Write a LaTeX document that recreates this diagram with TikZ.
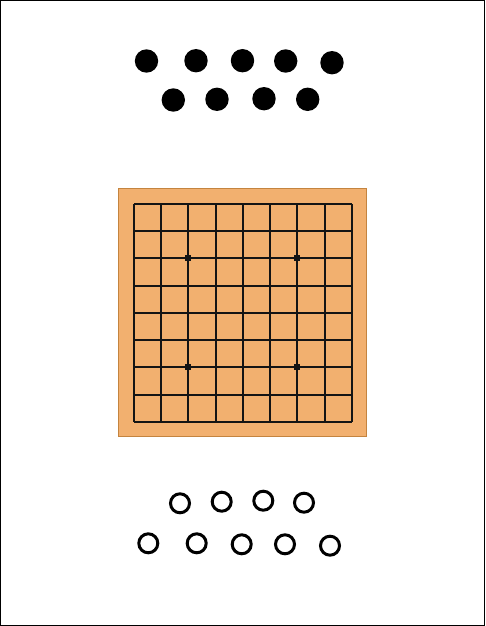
\documentclass[tikz,border=0pt]{standalone}
\usepackage{xcolor}
\definecolor{boardwood}{HTML}{F2B06F}
\definecolor{boardedge}{HTML}{C4843F}
\definecolor{gridline}{HTML}{141414}

\begin{document}
\begin{tikzpicture}[x=1pt, y=-1pt,
  blackstone/.style={circle, fill=black, minimum size=23.4pt, inner sep=0pt},
  whitestone/.style={circle, draw=black, fill=white, line width=3pt, minimum size=19pt, inner sep=0pt},
  boardline/.style={draw=gridline, line width=1.5pt}]
  % Page frame
  \useasboundingbox (0,0) rectangle (485,626);
  \draw[line width=1.3pt] (0.65,0.65) rectangle (484.35,625.35);
  % Captured black stones (top)
  \node[blackstone] (b1) at (146.5,61)  {};
  \node[blackstone] (b2) at (196,60.7)  {};
  \node[blackstone] (b3) at (242.5,60.7) {};
  \node[blackstone] (b4) at (285.7,61)  {};
  \node[blackstone] (b5) at (332,62.7)  {};
  \node[blackstone] (b6) at (173.3,100) {};
  \node[blackstone] (b7) at (217,99.3)  {};
  \node[blackstone] (b8) at (264,98.7)  {};
  \node[blackstone] (b9) at (307.7,99.3) {};
  % Board
  \draw[fill=boardwood, draw=boardedge, line width=1.2pt] (118.6,188.6) rectangle (366.8,436.8);
  \foreach \g in {134,161,188,216,243,270,297,325,352} {
    \draw[boardline] (\g,204) -- (\g,422);
    \draw[boardline] (134,{\g+70}) -- (352,{\g+70});
  }
  % Star points
  \foreach \sx/\sy in {188/258, 297/258, 188/367, 297/367}
    \fill[gridline] ({\sx-3},{\sy-3}) rectangle ({\sx+3},{\sy+3});
  % Captured white stones (bottom)
  \node[whitestone] (w1) at (180,503.3)   {};
  \node[whitestone] (w2) at (221.7,501.7) {};
  \node[whitestone] (w3) at (263.3,500.7) {};
  \node[whitestone] (w4) at (304,502.7)   {};
  \node[whitestone] (w5) at (148.3,543.3) {};
  \node[whitestone] (w6) at (196.7,543.3) {};
  \node[whitestone] (w7) at (241.7,544.3) {};
  \node[whitestone] (w8) at (285,544.3)   {};
  \node[whitestone] (w9) at (330,545.7)   {};
\end{tikzpicture}
\end{document}
